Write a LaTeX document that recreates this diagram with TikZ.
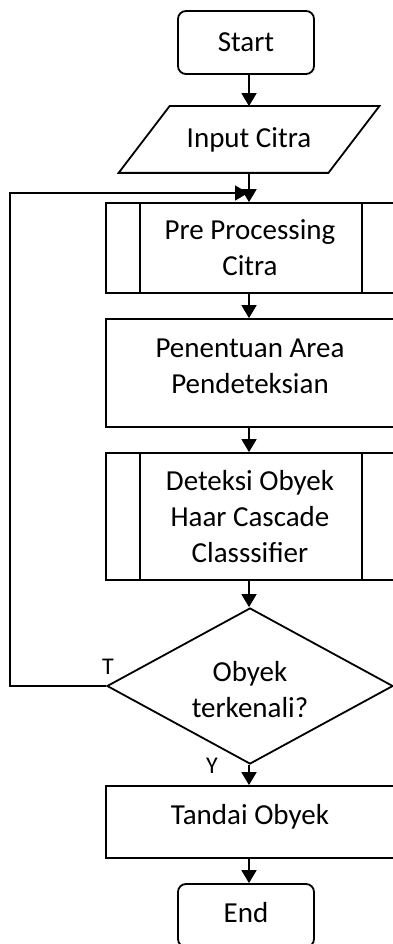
\documentclass[tikz,border=0pt]{standalone}
\usepackage{fontspec}
\setmainfont{Carlito}
\usetikzlibrary{shapes.geometric,arrows.meta}
\begin{document}
\begin{tikzpicture}[x=1pt,y=-1pt,
  line width=1.8pt,
  every node/.style={font=\fontsize{29}{36}\selectfont, align=center, inner sep=0pt},
  terminal/.style={draw, rounded corners=8pt, minimum width=136pt, minimum height=63pt},
  procbox/.style={draw, minimum width=288pt},
  txt/.style={},
  lbl/.style={font=\fontsize{24}{28}\selectfont},
  decision/.style={draw, diamond, minimum width=286pt, minimum height=156pt},
  arr/.style={-{Triangle[length=13pt,width=15pt]}}
]
\useasboundingbox (0,0) rectangle (392,944);

% flowchart nodes
\node[terminal] (start) at (246,42.5) {Start};
\node[minimum width=208pt, minimum height=65pt] (input) at (249,139.5) {Input Citra};
\draw ([xshift=25.5pt]input.north west) -- ([xshift=25.5pt]input.north east)
  -- ([xshift=-25.5pt]input.south east) -- ([xshift=-25.5pt]input.south west) -- cycle;

\node[procbox, minimum height=90pt] (pre) at (250,248) {Pre Processing\\Citra};
\draw ([xshift=35pt]pre.north west) -- ([xshift=35pt]pre.south west);
\draw ([xshift=-33pt]pre.north east) -- ([xshift=-33pt]pre.south east);

\node[procbox, minimum height=108pt] (area) at (250,373) {};
\node[txt] (areatext) at (250,366) {Penentuan Area\\Pendeteksian};

\node[procbox, minimum height=127pt] (haar) at (250,516.5) {Deteksi Obyek\\Haar Cascade\\Classsifier};
\draw ([xshift=35pt]haar.north west) -- ([xshift=35pt]haar.south west);
\draw ([xshift=-33pt]haar.north east) -- ([xshift=-33pt]haar.south east);

\node[decision] (dec) at (250,686) {};
\node[txt] (dectext) at (250,690) {Obyek\\terkenali?};

\node[procbox, minimum height=72pt] (mark) at (250,822) {};
\node[txt] (marktext) at (250,817) {Tandai Obyek};

\node[terminal] (end) at (246,915.5) {};
\node[txt] (endtext) at (246,913) {End};

% branch labels
\node[lbl] (tlabel) at (108,667) {T};
\node[lbl] (ylabel) at (212,766) {Y};

% connectors
\coordinate (merge) at (248,193);
\coordinate (leftrail) at (10,0);
\draw[arr] (start.south -| input.north) -- (input.north);
\draw[arr] (input.south) -- (pre.north -| input.south);
\draw[arr] (pre.south -| input.south) -- (area.north -| input.south);
\draw[arr] (area.south -| input.south) -- (haar.north -| input.south);
\draw[arr] (haar.south -| input.south) -- (dec.north -| input.south);
\draw[arr] (dec.south -| input.south) -- (mark.north -| input.south);
\draw[arr] (mark.south -| input.south) -- (end.north -| input.south);
\draw[arr] (dec.west) -- (dec.west -| leftrail) |- (merge);
\end{tikzpicture}
\end{document}
